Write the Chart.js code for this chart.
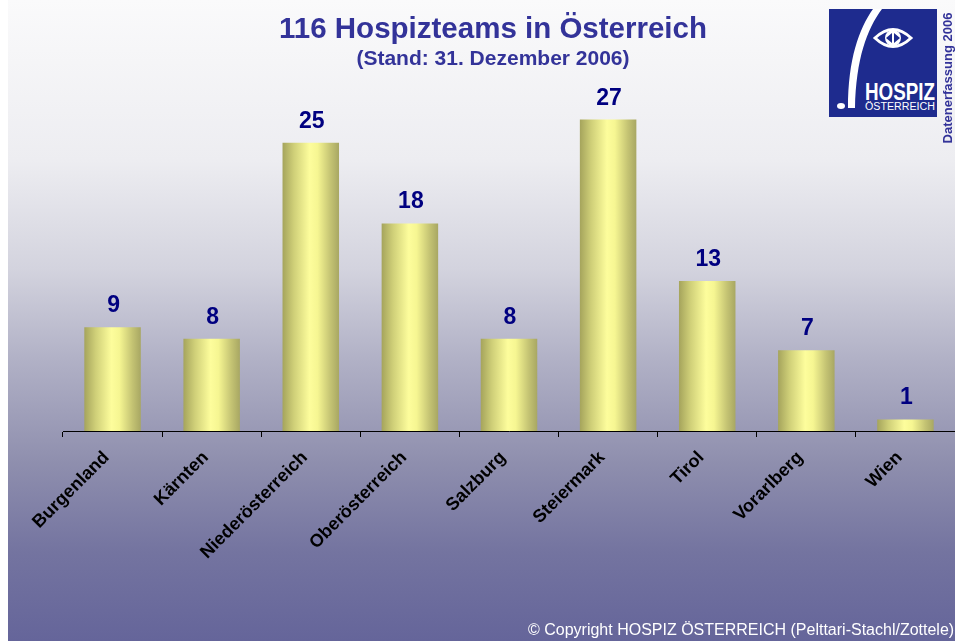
<!DOCTYPE html>
<html>
<head>
<meta charset="utf-8">
<script src="https://cdn.jsdelivr.net/npm/chart.js@4/dist/chart.umd.min.js"></script>
<style>
  html, body { margin: 0; padding: 0; overflow: hidden; background: #fff; }
  #page { position: relative; width: 955px; height: 641px; overflow: hidden; background: #fff;
          font-family: "Liberation Sans", Arial, sans-serif; }
  #bg { position: absolute; left: 8px; top: 0; right: 0; bottom: 0;
        background: linear-gradient(to bottom, #fafafb 0%, #ededf1 25%, #d3d3de 42%, #b1b1c6 56%, #8f8fae 72%, #7474a0 86%, #65659a 100%); }
  #chart { position: absolute; left: 0; top: 0; }
  .title { position: absolute; left: 0; width: 986px; text-align: center; color: #333399; font-weight: bold; white-space: nowrap; }
  #t1 { top: 11px; font-size: 29.5px; }
  #t2 { top: 46px; font-size: 21px; }
  #vert { position: absolute; left: 880px; top: 70px; width: 136px; transform: rotate(-90deg); transform-origin: 68px 8px;
          font-size: 13px; font-weight: bold; color: #333399; white-space: nowrap; line-height: 16px; text-align: center; }
  #copy { position: absolute; left: 528px; top: 621px; color: #fff; font-size: 16px; white-space: nowrap; }
  #logo { position: absolute; left: 829px; top: 9px; }
</style>
</head>
<body>
<div id="page">
  <div id="bg"></div>
  <canvas id="chart" width="955" height="641"></canvas>
  <div class="title" id="t1">116 Hospizteams in Österreich</div>
  <div class="title" id="t2">(Stand: 31. Dezember 2006)</div>
  <svg id="logo" width="108" height="108" viewBox="0 0 108 108">
    <rect x="0" y="0" width="108" height="108" fill="#1e2b8e"/>
    <path d="M44 0 L53 0 C38 20 27 50 26 99 L19 99 C19 50 30 20 44 0 Z" fill="#fff"/>
    <ellipse cx="12" cy="97" rx="4" ry="3" fill="#fff"/>
    <path d="M46 29 Q64 12 82 29 Q64 46 46 29 Z" stroke="#fff" stroke-width="3" fill="#1e2b8e"/>
    <circle cx="64" cy="29" r="8" fill="#fff"/>
    <path d="M57 29 L63 24 L63 34 Z M71 29 L65 24 L65 34 Z" fill="#1e2b8e"/>
    <text x="36" y="91" fill="#fff" font-family="Liberation Sans, Arial, sans-serif" font-weight="bold" font-size="24" textLength="70" lengthAdjust="spacingAndGlyphs">HOSPIZ</text>
    <text x="36" y="101" fill="#fff" font-family="Liberation Sans, Arial, sans-serif" font-size="10" textLength="70" lengthAdjust="spacingAndGlyphs">ÖSTERREICH</text>
  </svg>
  <div id="vert">Datenerfassung 2006</div>
  <div id="copy">© Copyright HOSPIZ ÖSTERREICH (Pelttari-Stachl/Zottele)</div>
</div>
<script>
var categories = ["Burgenland", "Kärnten", "Niederösterreich", "Oberösterreich", "Salzburg", "Steiermark", "Tirol", "Vorarlberg", "Wien"];
var teams = [9, 8, 25, 18, 8, 27, 13, 7, 1];

var barPct = 0.57;

function barFill(ctx) {
  var chart = ctx.chart;
  var xs = chart.scales.x;
  if (!xs || ctx.dataIndex === undefined) return '#f4f490';
  var cx = xs.getPixelForValue(ctx.dataIndex);
  var half = xs.width / categories.length * barPct / 2;
  if (!isFinite(cx) || !isFinite(half) || half <= 0) return '#f4f490';
  var g = chart.ctx.createLinearGradient(cx - half, 0, cx + half, 0);
  g.addColorStop(0, '#a5a45c');
  g.addColorStop(0.2, '#cfcf78');
  g.addColorStop(0.48, '#fdfd9c');
  g.addColorStop(0.62, '#f6f692');
  g.addColorStop(0.85, '#c4c373');
  g.addColorStop(1, '#a8a763');
  return g;
}

var valueLabels = {
  id: 'valueLabels',
  afterDatasetsDraw: function(chart) {
    var c = chart.ctx;
    var meta = chart.getDatasetMeta(0);
    c.save();
    c.font = 'bold 23px "Liberation Sans", Arial, sans-serif';
    c.fillStyle = '#000080';
    c.textAlign = 'center';
    c.textBaseline = 'alphabetic';
    meta.data.forEach(function(bar, i) {
      c.fillText(String(teams[i]), bar.x + 1, bar.y - 15);
    });
    c.restore();
  }
};

var chart = new Chart(document.getElementById('chart').getContext('2d'), {
  type: 'bar',
  data: {
    labels: categories,
    datasets: [{
      data: teams,
      backgroundColor: barFill,
      borderWidth: 0,
      categoryPercentage: 1,
      barPercentage: barPct
    }]
  },
  options: {
    responsive: false,
    animation: false,
    devicePixelRatio: 1,
    layout: { padding: { left: 63, right: 0, top: 85, bottom: 0 } },
    plugins: { legend: { display: false }, tooltip: { enabled: false }, title: { display: false } },
    scales: {
      y: { display: false, min: 0, max: 30 },
      x: {
        grid: { offset: true, drawOnChartArea: false, drawTicks: true, tickLength: 6, color: '#000', lineWidth: 1 },
        border: { display: true, color: '#000', width: 1 },
        ticks: {
          autoSkip: false, maxRotation: 45, minRotation: 45, padding: 10, labelOffset: -6,
          color: '#000',
          font: { family: '"Liberation Sans", Arial, sans-serif', size: 18, weight: 'bold' }
        },
        afterFit: function(s) { s.height = 210; }
      }
    }
  },
  plugins: [valueLabels]
});
</script>
</body>
</html>
